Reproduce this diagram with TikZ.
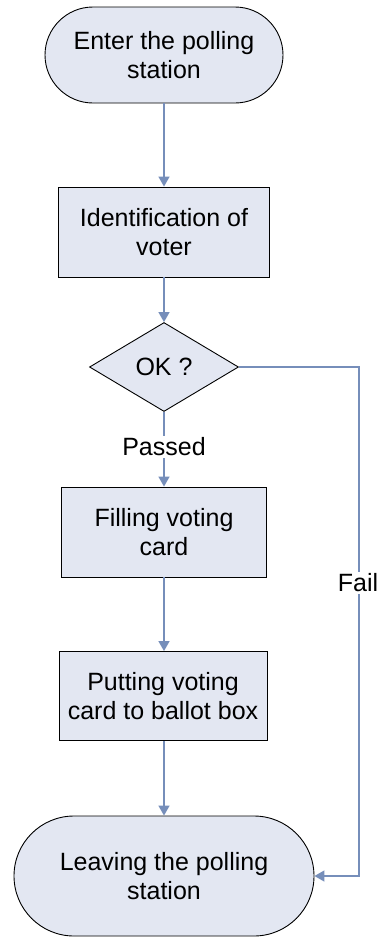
\documentclass[tikz,border=0pt]{standalone}
\usepackage{fontspec}
\setmainfont{Liberation Sans}
\usetikzlibrary{arrows.meta,shapes.geometric}
\definecolor{boxfill}{RGB}{227,231,242}
\definecolor{linkblue}{RGB}{118,142,186}
\tikzset{
  base/.style={draw=black, line width=0.9pt, fill=boxfill, align=center,
    font=\fontsize{25pt}{29pt}\selectfont, inner sep=0pt},
  terminal/.style={base, rectangle},
  process/.style={base, rectangle},
  decision/.style={base, diamond, aspect=1.67},
  conn/.style={draw=linkblue, line width=1.4pt,
    -{Triangle[length=10pt,width=11pt]}},
  plain/.style={draw=linkblue, line width=1.4pt},
  edgelabel/.style={fill=white, inner sep=2pt,
    font=\fontsize{25pt}{29pt}\selectfont},
}
\begin{document}
\begin{tikzpicture}[x=1pt,y=-1pt]
  \useasboundingbox[fill=white] (0,0) rectangle (381,937);

  % flowchart steps
  \node[terminal, rounded corners=48pt, minimum width=238pt, minimum height=96pt]
    (enter) at (164,55) {Enter the polling\\station};
  \node[process, minimum width=211pt, minimum height=90pt]
    (ident) at (164,232) {Identification of\\voter};
  \node[decision, minimum width=149pt, minimum height=89pt]
    (ok) at (164,367) {OK ?};
  \node[process, minimum width=205pt, minimum height=90pt]
    (filling) at (164,532) {Filling voting\\card};
  \node[process, minimum width=208pt, minimum height=89pt]
    (putting) at (163,696) {Putting voting\\card to ballot box};
  \node[terminal, rounded corners=60pt, minimum width=300pt, minimum height=120pt]
    (leave) at (164,876) {Leaving the polling\\station};

  % main flow
  \draw[conn] (enter.south) -- (ident.north);
  \draw[conn] (ident.south) -- (ok.north);
  \draw[conn] (ok.south) -- (filling.north);
  \draw[conn] (filling.south) -- (putting.north -| filling.south);
  \draw[conn] (putting.south -| filling.south) -- (leave.north);

  % rejection branch
  \coordinate (failx) at (359,0);
  \draw[conn] (ok.east) -- (ok.east -| failx) -- (failx |- leave.east) -- (leave.east);

  % branch labels
  \node[edgelabel] (passed) at (164,447) {Passed};
  \node[edgelabel] (fail) at (358,583) {Fail};
\end{tikzpicture}
\end{document}
